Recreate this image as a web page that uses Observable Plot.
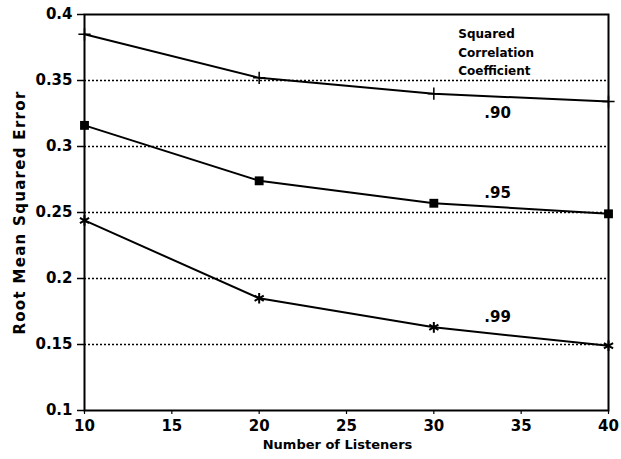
<!DOCTYPE html>
<html>
<head>
<meta charset="utf-8">
<script src="https://cdn.jsdelivr.net/npm/d3@7"></script>
<script src="https://cdn.jsdelivr.net/npm/@observablehq/plot@0.6"></script>
<style>
  html, body { margin: 0; padding: 0; background: #fff; }
  svg { display: block; }
</style>
</head>
<body>
<div id="chart"></div>
<script>
const listeners = [10, 20, 30, 40];
const r90 = [0.385, 0.352, 0.340, 0.334];
const r95 = [0.316, 0.274, 0.257, 0.249];
const r99 = [0.244, 0.185, 0.163, 0.149];
const seriesNames = [".90", ".95", ".99"];
const gridValues = [0.15, 0.2, 0.25, 0.3, 0.35];
const yTicks = [0.1, 0.15, 0.2, 0.25, 0.3, 0.35, 0.4];
const xTicks = [10, 15, 20, 25, 30, 35, 40];
const labelPos = [{x: 33.65, y: 0.325}, {x: 33.65, y: 0.265}, {x: 33.65, y: 0.171}];
const legendTitle = "Squared\nCorrelation\nCoefficient";
const yLabel = "Root Mean Squared Error";
const xLabel = "Number of Listeners";

const allSeries = [r90, r95, r99];
const rows = [];
allSeries.forEach((vals, i) => {
  vals.forEach((v, j) => rows.push({series: seriesNames[i], x: listeners[j], y: v}));
});
const labels = seriesNames.map((s, i) => ({text: s, x: labelPos[i].x, y: labelPos[i].y}));

const font = "'DejaVu Sans', Verdana, sans-serif";

const chart = Plot.plot({
  width: 621,
  height: 459,
  marginLeft: 84,
  marginRight: 13,
  marginTop: 14,
  marginBottom: 49,
  style: {fontFamily: font, fontWeight: "bold", fontSize: "15px", color: "#000", background: "#fff"},
  x: {domain: [10, 40]},
  y: {domain: [0.1, 0.4]},
  marks: [
    Plot.ruleY(gridValues, {x1: 10, x2: 40, stroke: "#000", strokeWidth: 1.5, strokeDasharray: "2,2"}),
    Plot.frame({stroke: "#000", strokeWidth: 2}),
    Plot.axisY({ticks: yTicks, tickSize: 7, tickPadding: 5, tickFormat: d => String(+d.toFixed(2)), label: null, stroke: "#000", strokeWidth: 1.5}),
    Plot.axisX({ticks: xTicks, tickSize: 4, tickPadding: 6, tickFormat: d => String(d), label: null, stroke: "#000", strokeWidth: 1.2}),
    Plot.text([yLabel], {frameAnchor: "left", textAnchor: "middle", rotate: -90, dx: -64, fontSize: 15, fontWeight: "bold"}),
    Plot.text([xLabel], {frameAnchor: "bottom", dx: -9, dy: 38, fontSize: 13, fontWeight: "bold"}),
    Plot.line(rows, {x: "x", y: "y", z: "series", stroke: "#000", strokeWidth: 2}),
    Plot.dot(rows.filter(d => d.series === ".90"), {x: "x", y: "y", symbol: "plus", r: 4, stroke: "#000", strokeWidth: 1.5}),
    Plot.dot(rows.filter(d => d.series === ".95"), {x: "x", y: "y", symbol: "square", r: 5, fill: "#000", stroke: "none"}),
    Plot.dot(rows.filter(d => d.series === ".99"), {x: "x", y: "y", symbol: "asterisk", r: 5, stroke: "#000", strokeWidth: 2}),
    Plot.text(labels, {x: "x", y: "y", text: "text", fontSize: 15, fontWeight: "bold"}),
    Plot.text([legendTitle], {x: 31.4, y: 0.392, textAnchor: "start", lineAnchor: "top", lineHeight: 1.55, fontSize: 12, fontWeight: "bold"})
  ]
});
d3.select(chart).selectAll("text").filter(function() { return this.textContent === yLabel; }).style("letter-spacing", "1.3px");
document.getElementById("chart").appendChild(chart);
</script>
</body>
</html>
